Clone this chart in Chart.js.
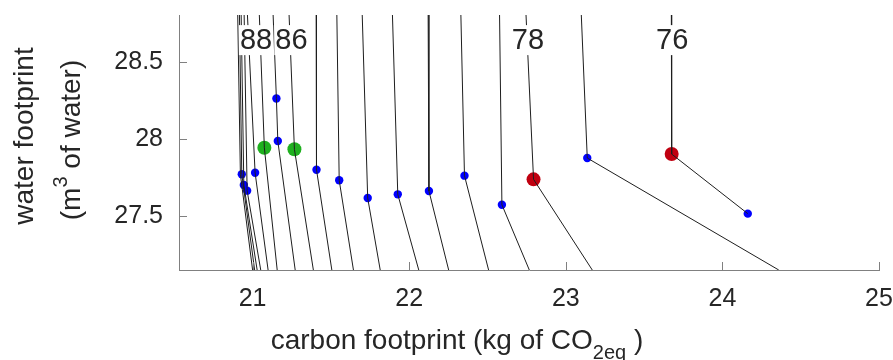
<!DOCTYPE html>
<html>
<head>
<meta charset="utf-8">
<script src="https://cdn.jsdelivr.net/npm/chart.js@4.4.1/dist/chart.umd.min.js"></script>
<style>
  html, body { margin: 0; padding: 0; background: #fff; }
  #wrap { width: 893px; height: 360px; }
</style>
</head>
<body>
<div id="wrap"><canvas id="fpChart" width="893" height="360"></canvas></div>
<script>
const Y_TOP = 28.81, Y_BOT = 27.145;

// iso-level lines: enter at the top edge, bend at the evaluated designs, leave at the bottom edge
const contourLines = [
  [[20.905, Y_TOP], [20.922, 27.770], [21.000, Y_BOT]],
  [[20.916, Y_TOP], [20.931, 27.770], [21.013, Y_BOT]],
  [[20.927, Y_TOP], [20.944, 27.700], [21.029, Y_BOT]],
  [[20.946, Y_TOP], [20.965, 27.663], [21.052, Y_BOT]],
  [[20.967, Y_TOP], [21.016, 27.780], [21.099, Y_BOT]],
  [[21.043, Y_TOP], [21.075, 27.943], [21.157, Y_BOT]],
  [[21.131, Y_TOP], [21.152, 28.265], [21.161, 27.987], [21.272, Y_BOT]],
  [[21.233, Y_TOP], [21.267, 27.933], [21.388, Y_BOT]],
  [[21.406, Y_TOP], [21.408, 27.800], [21.506, Y_BOT]],
  [[21.538, Y_TOP], [21.553, 27.731], [21.644, Y_BOT]],
  [[21.700, Y_TOP], [21.735, 27.615], [21.815, Y_BOT]],
  [[21.893, Y_TOP], [21.927, 27.639], [22.061, Y_BOT]],
  [[22.121, Y_TOP], [22.126, 27.661], [22.252, Y_BOT]],
  [[22.330, Y_TOP], [22.353, 27.761], [22.507, Y_BOT]],
  [[22.577, Y_TOP], [22.592, 27.571], [22.767, Y_BOT]],
  [[22.746, Y_TOP], [22.794, 27.737], [23.169, Y_BOT]],
  [[23.099, Y_TOP], [23.137, 27.876], [24.360, Y_BOT]],
  [[23.674, Y_TOP], [23.676, 27.902], [24.162, 27.513]]
];

const blueX = [20.931, 20.944, 20.965, 21.016, 21.152, 21.161, 21.408, 21.553, 21.735, 21.927, 22.126, 22.353, 22.592, 23.137, 24.162];
const blueY = [27.770, 27.700, 27.663, 27.780, 28.265, 27.987, 27.800, 27.731, 27.615, 27.639, 27.661, 27.761, 27.571, 27.876, 27.513];
const greenX = [21.075, 21.267];
const greenY = [27.943, 27.933];
const redX = [22.794, 23.676];
const redY = [27.737, 27.902];

const levelLabels = ['88', '86', '78', '76'];
const levelLabelX = [21.022, 21.248, 22.758, 23.679];
const levelLabelY = 28.646;

const xTicks = [21, 22, 23, 24, 25];
const yTicks = [27.5, 28, 28.5];

const FONT = '"Liberation Sans", Arial, Helvetica, sans-serif';
const TEXT = '#262626';
const AXIS = '#808080';

const toPts = (xs, ys) => xs.map((x, i) => ({ x, y: ys[i] }));

const datasets = contourLines.map(line => ({
  data: line.map(([x, y]) => ({ x, y })),
  showLine: true,
  borderColor: '#1e1e1e',
  borderWidth: 1,
  pointRadius: 0,
  tension: 0
}));
datasets.push(
  { data: toPts(blueX, blueY), pointRadius: 4.2, backgroundColor: '#0000ff', borderWidth: 0 },
  { data: toPts(greenX, greenY), pointRadius: 7, backgroundColor: '#1fb01f', borderWidth: 0 },
  { data: toPts(redX, redY), pointRadius: 7, backgroundColor: '#c00010', borderWidth: 0 }
);

// draws runs of text with sub/superscripts, centred on (0,0) of the current transform
function drawRuns(ctx, runs) {
  let total = 0;
  runs.forEach(r => { ctx.font = r.size + 'px ' + FONT; r.w = ctx.measureText(r.text).width; total += r.w; });
  let cx = -total / 2;
  runs.forEach(r => {
    ctx.font = r.size + 'px ' + FONT;
    ctx.fillText(r.text, cx, r.dy || 0);
    cx += r.w;
  });
}

const decorations = {
  id: 'decorations',
  afterDatasetsDraw(chart) {
    const { ctx, scales: { x, y } } = chart;
    ctx.save();
    ctx.font = '29px ' + FONT;
    ctx.textAlign = 'center';
    ctx.textBaseline = 'middle';
    levelLabels.forEach((t, i) => {
      const px = x.getPixelForValue(levelLabelX[i]);
      const py = y.getPixelForValue(levelLabelY);
      const w = ctx.measureText(t).width;
      ctx.fillStyle = '#fff';
      ctx.fillRect(px - w / 2 - 1, py - 15, w + 2, 30);
      ctx.fillStyle = TEXT;
      ctx.fillText(t, px, py + 1);
    });
    ctx.restore();
  },
  afterDraw(chart) {
    const { ctx, chartArea: a, scales: { x, y } } = chart;
    ctx.save();
    // inward tick marks
    ctx.strokeStyle = AXIS;
    ctx.lineWidth = 1;
    ctx.beginPath();
    xTicks.forEach(v => {
      const px = Math.round(x.getPixelForValue(v)) + 0.5;
      ctx.moveTo(px, a.bottom);
      ctx.lineTo(px, a.bottom - 8);
    });
    yTicks.forEach(v => {
      const py = Math.round(y.getPixelForValue(v)) + 0.5;
      ctx.moveTo(a.left, py);
      ctx.lineTo(a.left + 8, py);
    });
    ctx.stroke();

    // axis titles
    ctx.fillStyle = TEXT;
    ctx.textAlign = 'left';
    ctx.textBaseline = 'alphabetic';
    ctx.save();
    ctx.translate(457, 349);
    drawRuns(ctx, [
      { text: 'carbon footprint (kg of CO', size: 28 },
      { text: '2eq', size: 20, dy: 10 },
      { text: ' )', size: 28 }
    ]);
    ctx.restore();

    ctx.save();
    ctx.translate(33, 136);
    ctx.rotate(-Math.PI / 2);
    drawRuns(ctx, [{ text: 'water footprint', size: 28 }]);
    ctx.restore();

    ctx.save();
    ctx.translate(80, 140);
    ctx.rotate(-Math.PI / 2);
    drawRuns(ctx, [
      { text: '(m', size: 28 },
      { text: '3', size: 20, dy: -13 },
      { text: ' of water)', size: 28 }
    ]);
    ctx.restore();
    ctx.restore();
  }
};

new Chart(document.getElementById('fpChart'), {
  type: 'scatter',
  data: { datasets },
  options: {
    responsive: false,
    devicePixelRatio: 1,
    animation: false,
    layout: { padding: { left: 0, right: 14, top: 15, bottom: 0 } },
    plugins: { legend: { display: false }, tooltip: { enabled: false } },
    scales: {
      x: {
        type: 'linear',
        min: 20.53,
        max: 25,
        afterBuildTicks: s => { s.ticks = xTicks.map(value => ({ value })); },
        afterFit: s => { s.height = 90; s.paddingLeft = 0; s.paddingRight = 0; },
        grid: { display: false, drawTicks: false },
        border: { display: true, color: AXIS, width: 1 },
        ticks: { padding: 14, color: TEXT, font: { family: FONT, size: 25 }, callback: v => String(v) }
      },
      y: {
        type: 'linear',
        min: Y_BOT,
        max: Y_TOP,
        afterBuildTicks: s => { s.ticks = yTicks.map(value => ({ value })); },
        afterFit: s => { s.width = 179; s.paddingTop = 0; s.paddingBottom = 0; },
        grid: { display: false, drawTicks: false },
        border: { display: true, color: AXIS, width: 1 },
        ticks: { padding: 16, color: TEXT, font: { family: FONT, size: 25 }, callback: v => String(v) }
      }
    }
  },
  plugins: [decorations]
});
</script>
</body>
</html>
